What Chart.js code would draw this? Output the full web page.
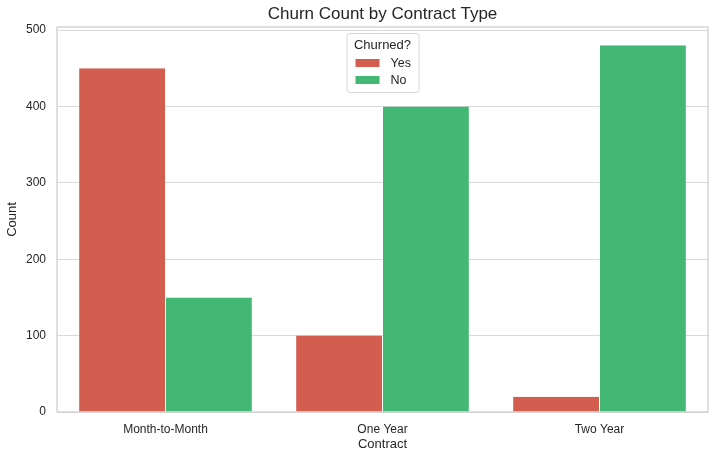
<!DOCTYPE html>
<html>
<head>
<meta charset="utf-8">
<script src="https://cdn.jsdelivr.net/npm/chart.js@4/dist/chart.umd.min.js"></script>
<style>
  html, body { margin: 0; padding: 0; background: #fff; }
  #wrap { width: 711px; height: 460px; }
</style>
</head>
<body>
<div id="wrap"><canvas id="myChart"></canvas></div>
<script>
const contractTypes = ['Month-to-Month', 'One Year', 'Two Year'];
const churnYes = [450, 100, 20];
const churnNo = [150, 400, 480];
const yTicks = [0, 100, 200, 300, 400, 500];

const FONT = '"Liberation Sans", Arial, sans-serif';
const TEXT = '#262626';

// frame, title and the in-plot legend
const decor = {
    id: 'decor',
    beforeDraw(chart) {
        const c = chart.ctx;
        c.save();
        c.fillStyle = '#fff';
        c.fillRect(0, 0, chart.width, chart.height);
        c.restore();
    },
    beforeDatasetsDraw(chart) {
        const a = chart.chartArea, c = chart.ctx;
        c.save();
        c.strokeStyle = '#cccccc';
        c.lineWidth = 1.2;
        c.strokeRect(a.left, a.top, a.right - a.left, a.bottom - a.top);
        c.restore();
    },
    afterDraw(chart) {
        const a = chart.chartArea, c = chart.ctx;
        c.save();
        c.fillStyle = TEXT;
        c.textAlign = 'center';
        c.textBaseline = 'middle';
        c.font = '17px ' + FONT;
        c.fillText('Churn Count by Contract Type', (a.left + a.right) / 2, 14);

        // legend
        const cx = (a.left + a.right) / 2;
        const bx = cx - 36, by = a.top + 6, bw = 72, bh = 59;
        c.fillStyle = 'rgba(255,255,255,0.8)';
        c.strokeStyle = '#d6d6d6';
        c.lineWidth = 1;
        c.beginPath();
        c.roundRect(bx + 0.5, by + 0.5, bw, bh, 3);
        c.fill();
        c.stroke();
        c.fillStyle = TEXT;
        c.font = '13px ' + FONT;
        c.fillText('Churned?', cx, by + 12);
        c.font = '12.5px ' + FONT;
        c.textAlign = 'left';
        chart.data.datasets.forEach((ds, i) => {
            const y = by + 30 + i * 17;
            c.fillStyle = ds.backgroundColor;
            c.fillRect(bx + 9, y - 4, 24, 8);
            c.fillStyle = TEXT;
            c.fillText(ds.label, bx + 44, y + 1);
        });
        c.restore();
    }
};

window.addEventListener('load', function() {
    let ctx = document.getElementById('myChart').getContext('2d');
    let chart = new Chart(ctx, {
        type: 'bar',
        data: {
            labels: contractTypes,
            datasets: [{
                label: 'Yes',
                backgroundColor: '#d35e50',
                borderColor: '#ffffff',
                data: churnYes
            }, {
                label: 'No',
                backgroundColor: '#42b874',
                borderColor: '#ffffff',
                data: churnNo
            }]
        },
        options: {
            responsive: true,
            maintainAspectRatio: false,
            animation: false,
            layout: { padding: { top: 27, right: 3, left: 0, bottom: 0 } },
            datasets: {
                bar: { barPercentage: 1, categoryPercentage: 0.8,
                       borderWidth: { left: 0.5, right: 0.5, top: 0, bottom: 0 } }
            },
            plugins: {
                legend: { display: false },
                title: { display: false },
                tooltip: { enabled: false }
            },
            scales: {
                x: {
                    grid: { display: false },
                    border: { display: false },
                    ticks: { color: TEXT, font: { family: FONT, size: 12 }, padding: 2, maxRotation: 0 },
                    title: { display: true, text: 'Contract', color: TEXT,
                             font: { family: FONT, size: 13 }, padding: { top: 0, bottom: 8 } },
                    afterFit(s) { s.height = 48; }
                },
                y: {
                    min: 0,
                    max: 504,
                    grid: { color: '#d9d9d9', lineWidth: 1, drawTicks: false },
                    border: { display: false },
                    ticks: { color: TEXT, font: { family: FONT, size: 12 }, padding: 11 },
                    afterBuildTicks(s) { s.ticks = yTicks.map(v => ({ value: v })); },
                    title: { display: true, text: 'Count', color: TEXT,
                             font: { family: FONT, size: 13 }, padding: { top: 5, bottom: 0 } },
                    afterFit(s) { s.width = 57; }
                }
            }
        },
        plugins: [decor]
    });
});
</script>
</body>
</html>
